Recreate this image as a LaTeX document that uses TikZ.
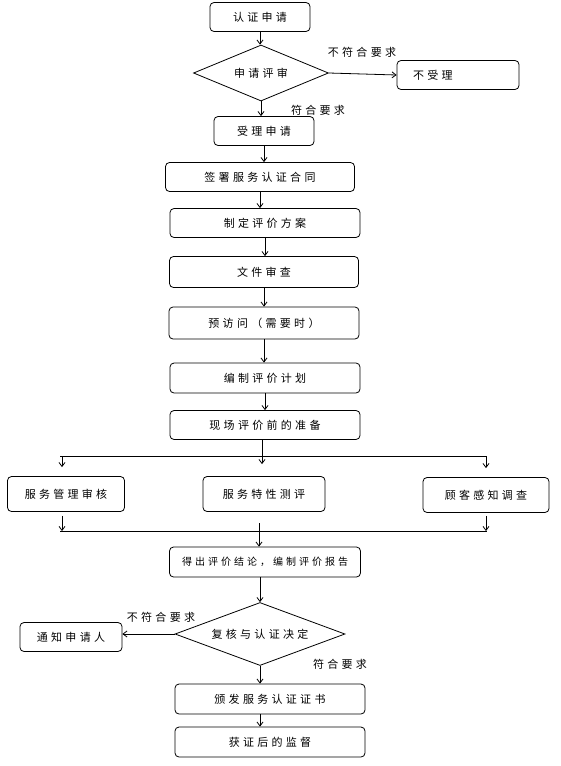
\documentclass[tikz,border=0pt]{standalone}
\usepackage{fontspec}
\newfontfamily\cjk[LetterSpace=30]{Noto Sans CJK SC}
\usetikzlibrary{shapes.geometric,arrows.meta}

\tikzset{
  procbox/.style={draw, rounded corners=4pt, line width=0.8pt,
    minimum height=29pt, inner sep=2pt,
    font={\fontsize{11pt}{13pt}\cjk}},
  checkbox/.style={draw, diamond, aspect=2.6, line width=0.8pt, inner sep=0pt,
    font={\fontsize{11pt}{13pt}\cjk}},
  note/.style={inner sep=0pt, font={\fontsize{11pt}{13pt}\cjk}},
  flow/.style={-{Straight Barb[length=4pt,width=6pt]}, line width=0.8pt}
}

\begin{document}
\begin{tikzpicture}[x=1pt, y=-1pt]
  \useasboundingbox (0,0) rectangle (560,766);

  %% application and review
  \node[procbox, minimum width=100pt] (apply) at (260,17) {认证申请};
  \node[checkbox, minimum width=135pt, minimum height=56pt]
    (review) at (261,73) {申请评审};
  \node[procbox, minimum width=122pt, text width=90pt, align=left]
    (reject) at (458,75) {不受理};
  \node[procbox, minimum width=100pt] (accept) at (264,131) {受理申请};

  %% contract and planning
  \node[procbox, minimum width=189pt] (sign) at (260,177) {签署服务认证合同};
  \node[procbox, minimum width=190pt] (scheme) at (265,223) {制定评价方案};
  \node[procbox, minimum width=189pt, minimum height=31pt]
    (docs) at (264,272) {文件审查};
  \node[procbox, minimum width=190pt, minimum height=32pt]
    (visit) at (264,323) {预访问（需要时）};
  \node[procbox, minimum width=190pt, minimum height=30pt]
    (plan) at (265,378) {编制评价计划};
  \node[procbox, minimum width=190pt] (prep) at (265,425) {现场评价前的准备};

  %% the three parallel assessments
  \node[procbox, minimum width=117pt, minimum height=35pt]
    (mgmt) at (66,494) {服务管理审核};
  \node[procbox, minimum width=122pt, minimum height=35pt]
    (trait) at (264,494) {服务特性测评};
  \node[procbox, minimum width=126pt, minimum height=35pt]
    (survey) at (486,495) {顾客感知调查};

  %% report and decision
  \node[procbox, minimum width=191pt, minimum height=30pt,
    font={\fontsize{10pt}{12pt}\cjk}] (report) at (265,562)
    {得出评价结论，编制评价报告};
  \node[checkbox, aspect=3, minimum width=170pt, minimum height=63pt]
    (decide) at (260,634) {复核与认证决定};
  \node[procbox, minimum width=102pt] (notify) at (71,637) {通知申请人};
  \node[procbox, minimum width=190pt, minimum height=30pt]
    (issue) at (270,699) {颁发服务认证证书};
  \node[procbox, minimum width=190pt, minimum height=30pt]
    (watch) at (270,742) {获证后的监督};

  %% branch and merge points
  \coordinate (splitL) at (62,456);
  \coordinate (splitR) at (486,456);
  \coordinate (mergeL) at (62,531);
  \coordinate (mergeR) at (486,531);
  \coordinate (mergeM) at (259,523);

  \draw[flow] (apply) -- (apply.south |- review.north); %% apply -> review
  \draw[flow] (review.east) -- (reject.west);            %% review -> reject
  \node[note] (noA) at (362,52) {不符合要求};
  \draw[flow] (review.south) -- (review.south |- accept.north);
  \node[note] (yesA) at (318,110) {符合要求};

  \draw[flow] (accept.south) -- (accept.south |- sign.north);
  \draw[flow] (sign.south) -- (sign.south |- scheme.north);
  \draw[flow] (scheme.south) -- (scheme.south |- docs.north);
  \draw[flow] (docs.south) -- (docs.south |- visit.north);
  \draw[flow] (visit.south) -- (visit.south |- plan.north);
  \draw[flow] (plan.south) -- (plan.south |- prep.north);

  %% split into three
  \draw[line width=0.8pt] (60,456) -- (splitR);
  \draw[flow, shorten >=12pt] ([xshift=-3pt]prep.south)
    -- ([xshift=-3pt]prep.south |- trait.north);
  \draw[flow, shorten >=9pt] (splitL) -- (splitL |- mgmt.north);
  \draw[flow, shorten >=9pt] (splitR) -- (splitR |- survey.north);

  %% merge back
  \draw[flow, shorten <=4pt] (splitL |- mgmt.south) -- (mergeL);
  \draw[flow, shorten <=3pt] (splitR |- survey.south) -- (mergeR);
  \draw[line width=0.8pt] (60,531) -- (487,531);
  \draw[flow] (mergeM) -- (mergeM |- report.north);

  \draw[flow] (report.south -| decide.north) -- (decide.north);
  \draw[flow] (decide.west) -- (decide.west -| notify.east); %% decide -> notify
  \node[note] (noB) at (161,617) {不符合要求};
  \draw[flow] (decide.south) -- (decide.south |- issue.north);
  \node[note] (yesB) at (340,664) {符合要求};
  \draw[flow] (decide.south |- issue.south) -- (decide.south |- watch.north);

\end{tikzpicture}
\end{document}
